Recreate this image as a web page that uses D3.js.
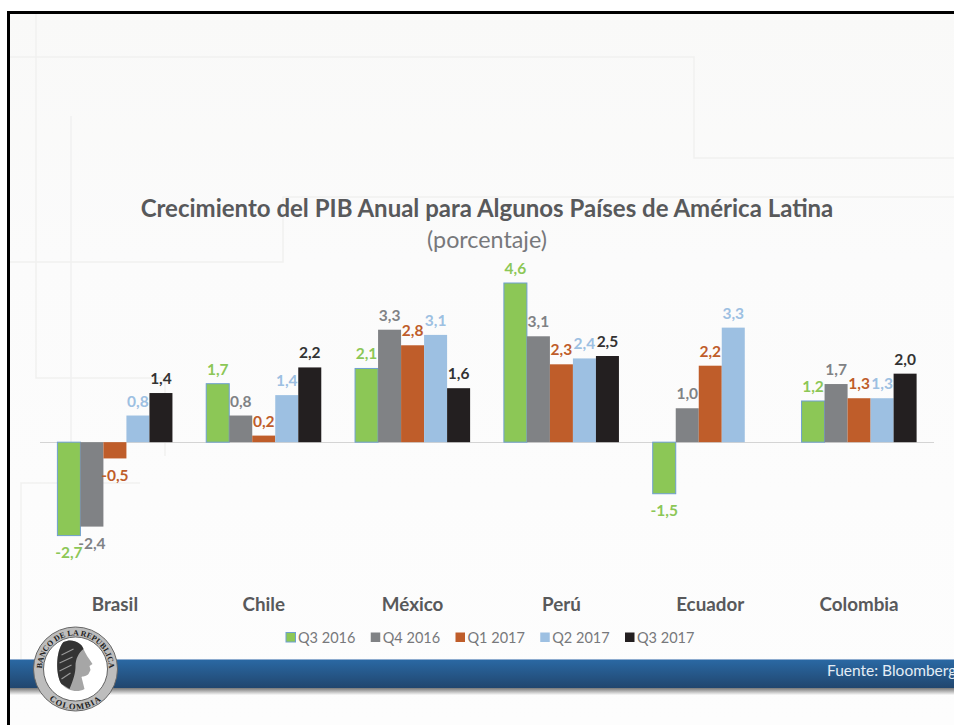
<!DOCTYPE html>
<meta charset="utf-8">
<style>
html, body { margin: 0; padding: 0; background: #fff; overflow: hidden; }
text { font-family: "Lato", "Open Sans", sans-serif; }
</style>
<body>
<script src="https://d3js.org/d3.v7.min.js"></script>
<script>

// values (bar heights, labels round to one decimal)
var paises = ["Brasil", "Chile", "México", "Perú", "Ecuador", "Colombia"];
var trimestres = ["Q3 2016", "Q4 2016", "Q1 2017", "Q2 2017", "Q3 2017"];
var q3_2016 = [-2.7, 1.69, 2.13, 4.6, -1.49, 1.19];
var q4_2016 = [-2.44, 0.77, 3.25, 3.06, 0.98, 1.68];
var q1_2017 = [-0.47, 0.19, 2.8, 2.25, 2.21, 1.27];
var q2_2017 = [0.77, 1.36, 3.1, 2.42, 3.31, 1.27];
var q3_2017 = [1.42, 2.16, 1.56, 2.49, null, 1.98];
var series = [q3_2016, q4_2016, q1_2017, q2_2017, q3_2017];
var colores = ["#8cc756", "#808285", "#bf5d2a", "#9dc0e2", "#231f20"];

var width = 954, height = 725;

var svg = d3.select("body").append("svg")
    .attr("width", width)
    .attr("height", height)
    .style("display", "block");

var defs = svg.append("defs");

var fondo = defs.append("linearGradient").attr("id", "fondo")
    .attr("x1", 0).attr("y1", 0).attr("x2", 0).attr("y2", 1);
fondo.append("stop").attr("offset", "0%").attr("stop-color", "#f9f9f8");
fondo.append("stop").attr("offset", "35%").attr("stop-color", "#fbfbfb");
fondo.append("stop").attr("offset", "100%").attr("stop-color", "#fdfdfd");

var banda = defs.append("linearGradient").attr("id", "banda")
    .attr("x1", 0).attr("y1", 0).attr("x2", 0).attr("y2", 1);
banda.append("stop").attr("offset", "0%").attr("stop-color", "#2a68a3");
banda.append("stop").attr("offset", "100%").attr("stop-color", "#21466e");

var sombra = defs.append("linearGradient").attr("id", "sombra")
    .attr("x1", 0).attr("y1", 0).attr("x2", 0).attr("y2", 1);
sombra.append("stop").attr("offset", "0%").attr("stop-color", "#777");
sombra.append("stop").attr("offset", "100%").attr("stop-color", "#fafafa");

// slide background and frame
svg.append("rect").attr("x", 8).attr("y", 12).attr("width", 946).attr("height", 713)
    .attr("fill", "url(#fondo)");

var lineasFondo = [
  "M36,14V378H165V456",
  "M9,57H694V158H954",
  "M71,116V442",
  "M9,262H283V197H954",
  "M21,660V483H140"
];
svg.append("g").selectAll("path").data(lineasFondo).enter().append("path")
    .attr("d", function(d) { return d; })
    .attr("fill", "none")
    .attr("stroke", "#f1f1f0")
    .attr("stroke-width", 1.5);

svg.append("path")
    .attr("d", "M8.5,725V12.5H954")
    .attr("fill", "none")
    .attr("stroke", "#000")
    .attr("stroke-width", 3);

// scales
var x = d3.scaleBand()
    .domain(paises)
    .range([40.5, 933.5])
    .paddingInner(0.227)
    .paddingOuter(0.1135);
var xQ = d3.scaleBand()
    .domain(trimestres)
    .range([0, x.bandwidth()]);
var y = d3.scaleLinear()
    .domain([-2.7, 4.6])
    .range([535.6, 283]);

function etiqueta(v) {
  return v.toFixed(1).replace(".", ",");
}

// title
svg.append("text").attr("x", 487).attr("y", 217)
    .attr("text-anchor", "middle")
    .attr("font-size", 24).attr("font-weight", 700)
    .attr("fill", "#58595b")
    .text("Crecimiento del PIB Anual para Algunos Países de América Latina");
svg.append("text").attr("x", 487).attr("y", 248)
    .attr("text-anchor", "middle")
    .attr("font-size", 23.3)
    .attr("fill", "#77787b")
    .text("(porcentaje)");

// zero line
svg.append("line")
    .attr("x1", 40).attr("x2", 934)
    .attr("y1", 442.5).attr("y2", 442.5)
    .attr("stroke", "#d4d4d4").attr("stroke-width", 1);

// bars and labels
series.forEach(function(valores, s) {
  var g = svg.append("g");
  var datos = valores.map(function(v, i) { return {pais: paises[i], v: v}; })
      .filter(function(d) { return d.v !== null; });

  g.selectAll("rect").data(datos).enter().append("rect")
      .attr("x", function(d) { return x(d.pais) + xQ(trimestres[s]); })
      .attr("width", xQ.bandwidth())
      .attr("y", function(d) { return y(Math.max(d.v, 0)); })
      .attr("height", function(d) { return Math.abs(y(d.v) - y(0)); })
      .attr("fill", colores[s])
      .attr("stroke", s == 0 ? "#6f9fd0" : "none")
      .attr("stroke-width", s == 0 ? 1 : 0);

  g.selectAll("text").data(datos).enter().append("text")
      .attr("x", function(d) { return x(d.pais) + xQ(trimestres[s]) + xQ.bandwidth() / 2; })
      .attr("y", function(d) { return d.v < 0 ? y(d.v) + 22.5 : y(d.v) - 9; })
      .attr("text-anchor", "middle")
      .attr("font-size", 15.5).attr("font-weight", 700)
      .attr("fill", colores[s] == "#231f20" ? "#333" : colores[s])
      .text(function(d) { return etiqueta(d.v); });
});

// category labels
svg.append("g").selectAll("text").data(paises).enter().append("text")
    .attr("x", function(d) { return x(d) + x.bandwidth() / 2; })
    .attr("y", 611)
    .attr("text-anchor", "middle")
    .attr("font-size", 18.8).attr("font-weight", 700)
    .attr("fill", "#58595b")
    .text(function(d) { return d; });

// legend
var leyenda = d3.scalePoint().domain(trimestres).range([286, 625]);
var itemLeyenda = svg.append("g").selectAll("g").data(trimestres).enter().append("g")
    .attr("transform", function(d) { return "translate(" + leyenda(d) + ",632.5)"; });
itemLeyenda.append("rect")
    .attr("width", 9.5).attr("height", 9.5)
    .attr("fill", function(d, i) { return colores[i]; })
    .attr("stroke", function(d, i) { return i == 0 ? "#6f9fd0" : "none"; });
itemLeyenda.append("text")
    .attr("x", 12).attr("y", 10)
    .attr("font-size", 14.5)
    .attr("fill", "#77787b")
    .text(function(d) { return d; });

// footer band
svg.append("rect").attr("x", 10).attr("y", 688).attr("width", 944).attr("height", 7)
    .attr("fill", "url(#sombra)");
svg.append("rect").attr("x", 10).attr("y", 660).attr("width", 944).attr("height", 28)
    .attr("fill", "url(#banda)");
svg.append("line").attr("x1", 10).attr("x2", 954).attr("y1", 659.5).attr("y2", 659.5)
    .attr("stroke", "#8eaccf");
svg.append("text").attr("x", 827).attr("y", 676)
    .attr("font-size", 15.5)
    .attr("fill", "#e4edf5")
    .text("Fuente: Bloomberg");

// seal
var sello = svg.append("g").attr("transform", "translate(75.5,669)");
sello.append("circle").attr("r", 42).attr("fill", "#bdbdbd").attr("stroke", "#666").attr("stroke-width", 1);
sello.append("circle").attr("r", 32).attr("fill", "#fff").attr("stroke", "#444").attr("stroke-width", 0.8);

defs.append("path").attr("id", "arcoArriba").attr("d", "M-31.1,12.5A33.5,33.5 0 1 1 31.1,12.5");
defs.append("path").attr("id", "arcoAbajo").attr("d", "M-29,28A40,40 0 0 0 29,28");

sello.append("text").attr("font-size", 8).attr("font-weight", 700)
    .style("font-family", "'Liberation Serif'")
    .attr("fill", "#222")
  .append("textPath").attr("href", "#arcoArriba").attr("startOffset", "50%").attr("text-anchor", "middle")
    .text("BANCO DE LA REPUBLICA");
sello.append("text").attr("font-size", 8.5).attr("font-weight", 700)
    .style("font-family", "'Liberation Serif'")
    .attr("fill", "#222").attr("letter-spacing", 1.2)
  .append("textPath").attr("href", "#arcoAbajo").attr("startOffset", "50%").attr("text-anchor", "middle")
    .text("COLOMBIA");

// profile head, hand traced from the seal
sello.append("path")
    .attr("d", "M-12,-27C-4,-31 6,-27 8,-20C10,-15 13,-11 17,-5L14,-3L15,1L13,5C10,8 7,7 6,8L9,20C2,24 -8,22 -14,15C-20,6 -20,-18 -12,-27Z")
    .attr("fill", "#a6a6a6");
sello.append("path")
    .attr("d", "M-12,-27C-4,-31 6,-27 8,-20C3,-16 0,-10 0,-3C0,4 -2,10 -6,20L-14,15C-20,6 -20,-18 -12,-27Z")
    .attr("fill", "#333");
sello.append("path")
    .attr("d", "M-14,-14L-2,-20M-16,-6L-3,-12M-16,2L-4,-4M-14,10L-5,4")
    .attr("fill", "none")
    .attr("stroke", "#999").attr("stroke-width", 1.2);

</script>
</body>
